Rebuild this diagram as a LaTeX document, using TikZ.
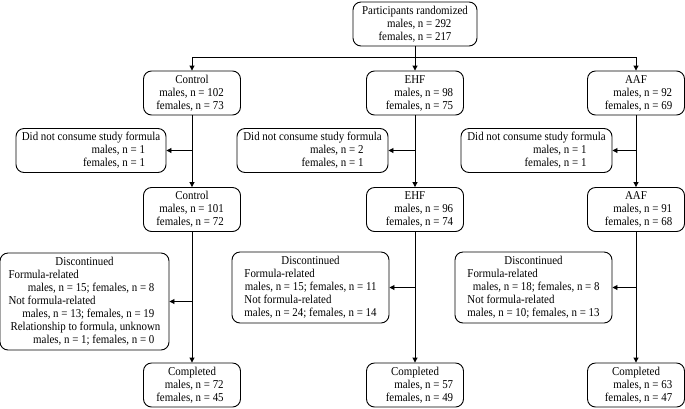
\documentclass[tikz,border=0pt]{standalone}
\usepackage{fontspec}
\setmainfont{Liberation Serif}[FakeStretch=0.91]
\usetikzlibrary{arrows.meta}
% counts lines, flush right: optional shift, males, females
\newsavebox{\fembox}
\newcommand{\mf}[3][0pt]{\global\setbox\fembox\hbox{females, n = #3}%
  \hspace*{#1}\makebox[\wd\fembox][r]{males, n = #2}\\ \hspace*{#1}\usebox{\fembox}}

\begin{document}
\begin{tikzpicture}[x=1pt, y=-1pt, font=\fontsize{12}{13}\selectfont,
  box/.style={draw, rounded corners=8pt, line width=0.9pt, align=center,
    inner ysep=3pt, minimum height=44pt, minimum width=97pt},
  arm/.style={line width=0.9pt, -{Triangle[length=5pt, width=5pt]}},
  ]
\useasboundingbox (0,0) rectangle (685,408);

% randomization
\node[box, minimum width=124pt] (rand) at (415,24) {Participants randomized\\ \mf{292}{217}};
\coordinate (fork) at (415,57);

% allocated
\node[box] (c1) at (192,93) {Control\\ \mf[-4pt]{102}{73}};
\node[box] (e1) at (415,93) {EHF\\ \mf[9pt]{98}{75}};
\node[box] (a1) at (636,93) {AAF\\ \mf[5pt]{92}{69}};

% did not consume
\node[box, minimum width=150pt] (cn) at (91,150.5) {Did not consume study formula\\ \mf[46pt]{1}{1}};
\node[box, minimum width=151pt] (en) at (312.5,150.5) {Did not consume study formula\\ \mf[40pt]{2}{1}};
\node[box, minimum width=151pt] (an) at (536.5,150.5) {Did not consume study formula\\ \mf[38pt]{1}{1}};

% received formula
\node[box] (c2) at (192,209.5) {Control\\ \mf[-4pt]{101}{72}};
\node[box] (e2) at (415,209.5) {EHF\\ \mf[9pt]{96}{74}};
\node[box] (a2) at (636,209.5) {AAF\\ \mf[5pt]{91}{68}};

% discontinued
\node[box, minimum width=169pt] (cd) at (84.5,301.5) {\begin{tabular}{@{}l@{}}
  \multicolumn{1}{@{}c@{}}{Discontinued}\\
  Formula-related\\
  \hfill males, n = 15; females, n = 8\hspace*{6pt}\\
  Not formula-related\\
  \hfill males, n = 13; females, n = 19\hspace*{6pt}\\
  \hspace*{2pt}Relationship to formula, unknown\\
  \hfill males, n = 1; females, n = 0\hspace*{6pt}
  \end{tabular}};
\node[box, minimum width=157pt] (ed) at (310.5,287.5) {\begin{tabular}{@{}l@{}}
  \multicolumn{1}{@{}c@{}}{Discontinued}\\
  Formula-related\\
  \hfill males, n = 15; females, n = 11\\
  Not formula-related\\
  \hfill males, n = 24; females, n = 14
  \end{tabular}};
\node[box, minimum width=157pt] (ad) at (533.5,287.5) {\begin{tabular}{@{}l@{}}
  \multicolumn{1}{@{}c@{}}{Discontinued}\\
  Formula-related\\
  \hfill males, n = 18; females, n = 8\\
  Not formula-related\\
  \hfill males, n = 10; females, n = 13
  \end{tabular}};

% completed
\node[box] (c3) at (192,385) {Completed\\ \mf[-4pt]{72}{45}};
\node[box] (e3) at (415,385) {Completed\\ \mf[9pt]{57}{49}};
\node[box] (a3) at (636,385) {Completed\\ \mf[5pt]{63}{47}};

% connectors
\draw[line width=0.9pt] (rand.south) -- (fork);
\draw[arm] (fork) -| (c1.north);
\draw[arm] (fork) -- (e1.north);
\draw[arm] (fork) -| (a1.north);
\foreach \g in {c,e,a} {
  \draw[arm] (\g1.south) -- (\g2.north);
  \draw[arm] (\g2.south) -- (\g3.north);
  \draw[arm] (\g1.south |- \g n.east) -- (\g n.east);
  \draw[arm] (\g2.south |- \g d.east) -- (\g d.east);
}
\end{tikzpicture}
\end{document}
